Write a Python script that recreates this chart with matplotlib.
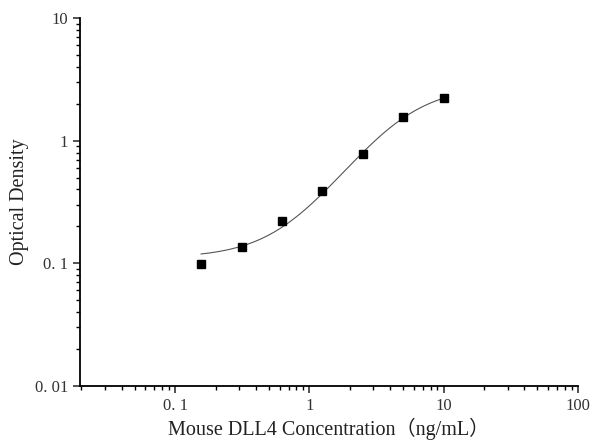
import numpy as np
import matplotlib
matplotlib.use("Agg")
import matplotlib.pyplot as plt
from matplotlib.ticker import LogLocator, NullFormatter, FixedLocator

# standard curve data
conc = [0.156, 0.312, 0.625, 1.25, 2.5, 5, 10]
od = [0.098, 0.135, 0.221, 0.388, 0.773, 1.55, 2.22]

x_ticks = [0.1, 1, 10, 100]
x_tick_labels = ["0. 1", "1", "10", "100"]
y_ticks = [0.01, 0.1, 1, 10]
y_tick_labels = ["0. 01", "0. 1", "1", "10"]

plt.rcParams['font.family'] = ['Liberation Serif', 'Noto Sans CJK SC']


def fit_4pl(x, y):
    # grid over b, c; a and d by linear least squares
    x = np.asarray(x, float)
    y = np.asarray(y, float)
    best = None
    for b in np.linspace(0.3, 4, 150):
        for c in np.logspace(-1, 3, 300):
            g = 1.0 / (1.0 + (x / c) ** b)
            A = np.column_stack([g, 1 - g])
            sol, *_ = np.linalg.lstsq(A, y, rcond=None)
            err = np.sum((A @ sol - y) ** 2)
            if best is None or err < best[0]:
                best = (err, sol[0], b, c, sol[1])
    return best[1:]


a, b, c, d = fit_4pl(conc, od)

fig = plt.figure(figsize=(5.92, 4.43), dpi=100)
ax = fig.add_axes([0.135, 0.129, 0.841, 0.830])

xs = np.logspace(np.log10(conc[0]), np.log10(conc[-1]), 200)
ys = d + (a - d) / (1 + (xs / c) ** b)
ax.plot(xs, ys, color="#555555", lw=0.8)
ax.plot(conc, od, "s", color="black", markersize=6)

ax.set_xscale("log")
ax.set_yscale("log")
ax.set_xlim(0.0195, 100)
ax.set_ylim(0.01, 10)

ax.xaxis.set_major_locator(FixedLocator(x_ticks))
ax.set_xticklabels(x_tick_labels)
ax.yaxis.set_major_locator(FixedLocator(y_ticks))
ax.set_yticklabels(y_tick_labels)
ax.xaxis.set_minor_locator(LogLocator(base=10, subs=np.arange(2, 10)))
ax.yaxis.set_minor_locator(LogLocator(base=10, subs=np.arange(2, 10)))
ax.xaxis.set_minor_formatter(NullFormatter())
ax.yaxis.set_minor_formatter(NullFormatter())

for s in ["top", "right"]:
    ax.spines[s].set_visible(False)
for s in ["left", "bottom"]:
    ax.spines[s].set_linewidth(1.3)

ax.tick_params(which="major", direction="out", length=5, width=1.2, labelsize=12, colors="#333333")
ax.tick_params(which="minor", direction="out", length=3, width=1.0)

ax.set_xlabel("Mouse DLL4 Concentration（ng/mL）", fontsize=14.5, color="#222222", labelpad=3)
ax.set_ylabel("Optical Density", fontsize=14.5, color="#222222")

fig.savefig("out.png", dpi=100)
